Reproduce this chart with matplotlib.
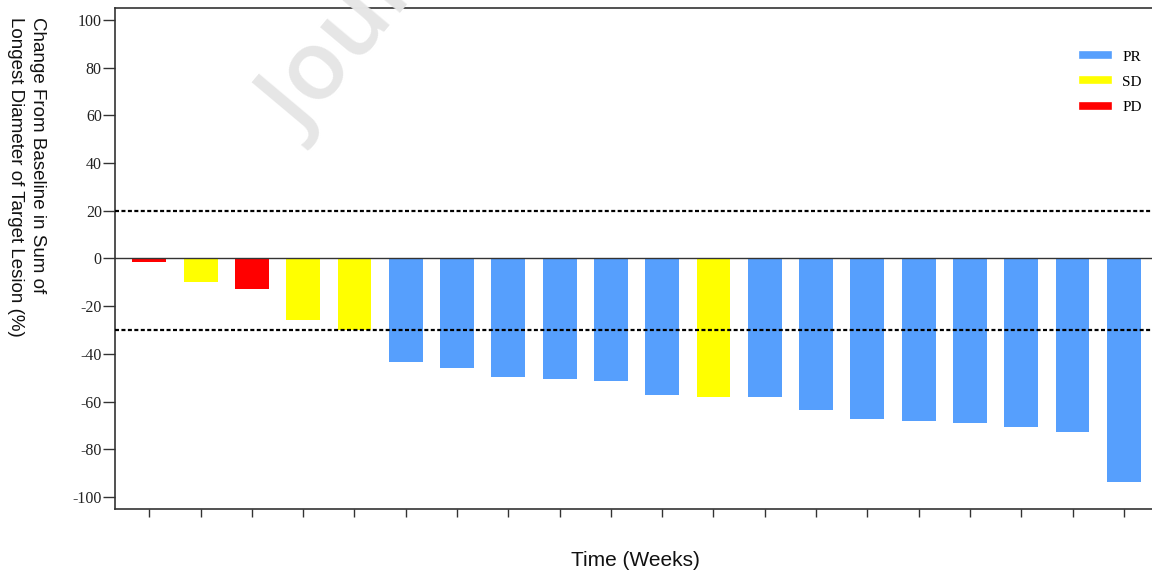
import matplotlib
matplotlib.use('Agg')
import matplotlib.pyplot as plt
from matplotlib.lines import Line2D

# best response per patient, sorted like the original waterfall
change = [-1.5, -10, -12.9, -25.6, -29.8, -43.2, -46.0, -49.5, -50.7, -51.2,
          -57.4, -57.9, -58.0, -63.3, -67.2, -68.3, -68.9, -70.7, -72.7, -93.8]
response = ['PD', 'SD', 'PD', 'SD', 'SD', 'PR', 'PR', 'PR', 'PR', 'PR',
            'PR', 'SD', 'PR', 'PR', 'PR', 'PR', 'PR', 'PR', 'PR', 'PR']
yticks = [100, 80, 60, 40, 20, 0, -20, -40, -60, -80, -100]
legend_order = ['PR', 'SD', 'PD']

colors = {'PR': '#569ffd', 'SD': '#ffff00', 'PD': '#ff0000'}
serif = 'Liberation Serif'
sans = 'Liberation Sans'

fig = plt.figure(figsize=(11.52, 5.71), dpi=100)
ax = fig.add_axes([0.0998, 0.1086, 0.9002, 0.8774])

x = list(range(len(change)))
ax.bar(x, change, width=0.66, color=[colors[r] for r in response], zorder=2)

ax.axhline(0, color='#333333', lw=1.0, zorder=3)
ax.axhline(20, color='black', lw=1.6, dashes=(1.8, 1.1), zorder=3)
ax.axhline(-30, color='black', lw=1.6, dashes=(1.8, 1.1), zorder=3)

ax.set_xlim(-0.67, len(change) - 0.45)
ax.set_ylim(-105, 105)
ax.set_yticks(yticks)
ax.set_yticklabels([str(v) for v in yticks], fontfamily=serif, fontsize=11.5, color='#222222')
ax.set_xticks(x)
ax.set_xticklabels([])

for side in ['left', 'bottom', 'top']:
    ax.spines[side].set_color('#333333')
    ax.spines[side].set_linewidth(1.2)
ax.spines['right'].set_visible(False)
ax.tick_params(axis='y', length=8.5, width=1.0, color='#333333', pad=1)
ax.tick_params(axis='x', length=5.5, width=1.0, color='#333333')

fig.text(0.552, 0.0088, 'Time (Weeks)', fontfamily=sans, fontsize=15,
         ha='center', va='baseline', color='#111111')
fig.text(0.006, 0.970, 'Change From Baseline in Sum of\nLongest Diameter of Target Lesion (%)',
         fontfamily=sans, fontsize=13.5, rotation=-90, ha='left', va='top',
         multialignment='left', linespacing=1.42, color='#111111')

# watermark
fig.text(0.262, 0.756, 'Journal Pre-proof', fontfamily='Open Sans', fontsize=70,
         fontweight='semibold', rotation=50, rotation_mode='anchor',
         ha='left', va='baseline', color='#e6e6e6', zorder=0)

handles = [Line2D([0], [0], color=colors[k], lw=5.5) for k in legend_order]
ax.legend(handles, legend_order, loc='upper left', bbox_to_anchor=(0.9335, 0.926),
          bbox_transform=fig.transFigure, frameon=False,
          prop={'family': serif, 'size': 11}, handlelength=1.63,
          handletextpad=0.95, labelspacing=0.75, borderpad=0)

fig.savefig('out.png', dpi=100)
